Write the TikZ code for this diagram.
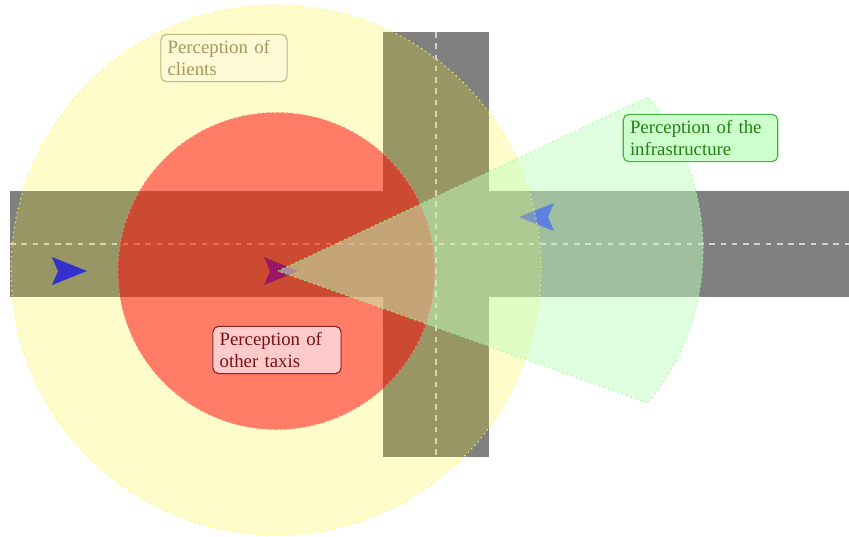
\documentclass[tikz,border=0pt]{standalone}
\usepackage{fontspec}
\setmainfont{Liberation Serif}
\definecolor{clientsF}{RGB}{255,250,214}
\definecolor{clientsB}{RGB}{196,180,118}
\definecolor{clientsT}{RGB}{168,148,92}
\definecolor{taxisF}{RGB}{255,202,202}
\definecolor{taxisB}{RGB}{140,34,34}
\definecolor{taxisT}{RGB}{120,16,24}
\definecolor{infraF}{RGB}{204,255,204}
\definecolor{infraB}{RGB}{70,176,70}
\definecolor{infraT}{RGB}{36,128,20}
\begin{document}
\begin{tikzpicture}[x=0.532pt,y=-0.532pt,
  road/.style={fill=gray},
  laneline/.style={draw=white,draw opacity=0.65,line width=1pt,dash pattern=on 3pt off 3pt},
  car/.style={fill=blue},
  zone/.style={dotted,line width=0.6pt},
  tag/.style={rounded corners=3pt,draw,line width=0.6pt,align=left,inner xsep=3.6pt,inner ysep=3pt,font=\fontsize{10}{12}\selectfont}]
\useasboundingbox (0,0) rectangle (849,536);
% roads
\fill[road] (10,191) rectangle (849,297);
\fill[road] (383,32) rectangle (489,457);
\draw[laneline] (10,244) -- (849,244);
\draw[laneline] (436,32) -- (436,457);
% vehicles
\fill[car] (87,271) -- (52,257) -- (58,271) -- (52,285) -- cycle;
\fill[car] (298,271) -- (264,257) -- (270,271) -- (264,285) -- cycle;
\fill[car] (519,217) -- (554,203) -- (548,217) -- (554,231) -- cycle;
% perception zones
\path[zone,fill=yellow,fill opacity=0.2,draw=yellow!70!white] (276,270) circle[radius=265];
\path[zone,fill=red,fill opacity=0.5,draw=red!50] (276.5,271) circle[radius=158.5];
\coordinate (apex) at (278,271);
\path[zone,fill=green!25,fill opacity=0.5,draw=green!45] (apex) -- (648,97) arc[start angle=-39.6,end angle=39.6,radius=240] -- cycle;
% labels
\node[tag,draw=clientsB,fill=clientsF,text=clientsT,text width=60pt] (clients) at (224,58) {Perception of\\clients};
\node[tag,draw=taxisB,fill=taxisF,text=taxisT,text width=61pt] (taxis) at (277,350) {Perception of\\other taxis};
\node[tag,draw=infraB,fill=infraF,text=infraT,text width=75pt] (infra) at (700.5,138) {Perception of the\\infrastructure};
\end{tikzpicture}
\end{document}
